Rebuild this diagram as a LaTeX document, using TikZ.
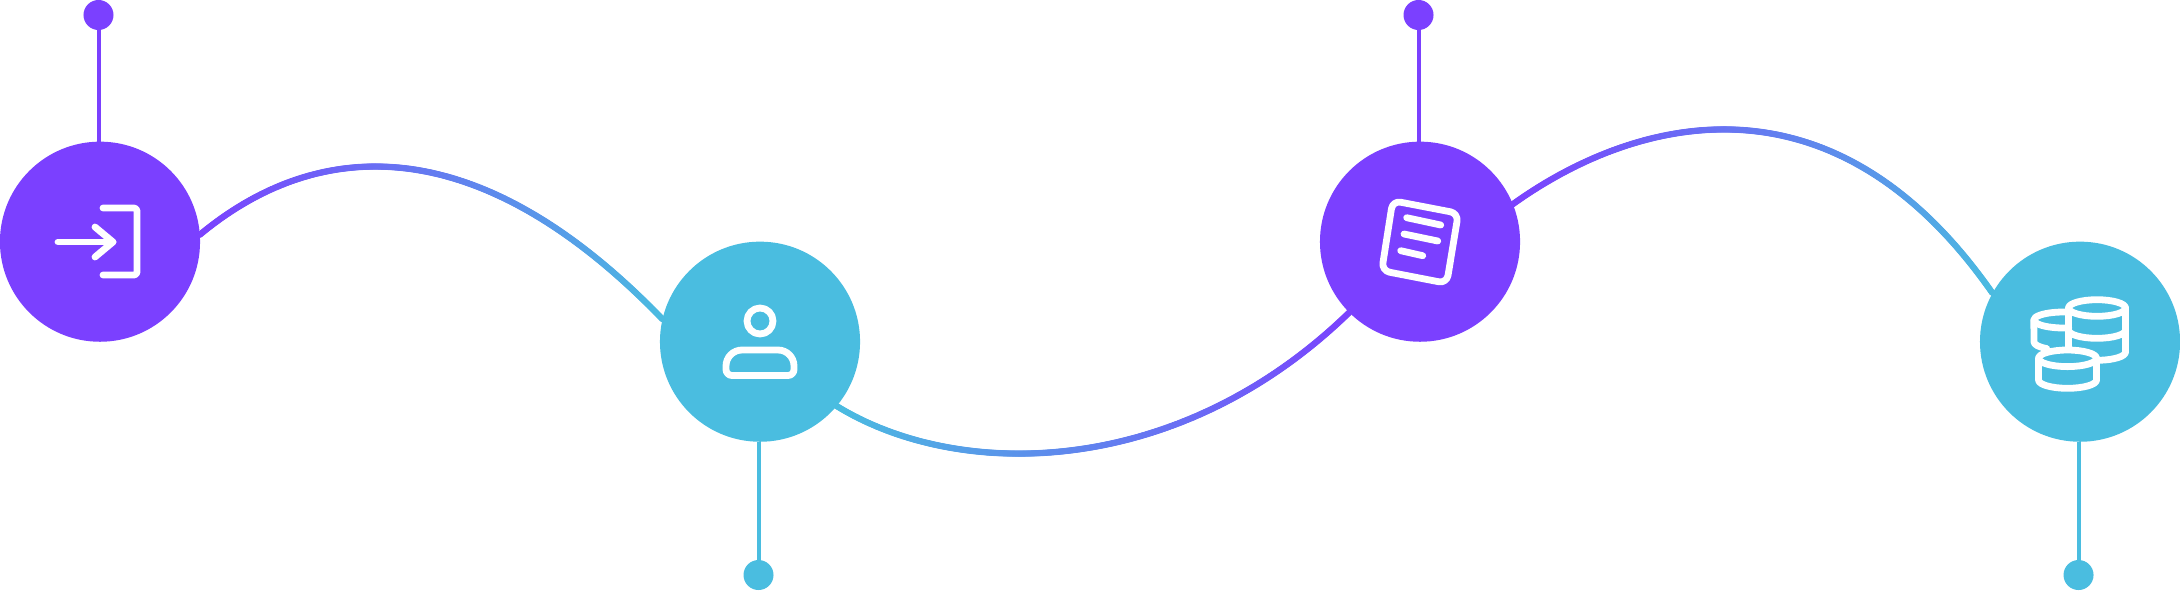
\documentclass[tikz,border=0pt]{standalone}
\usetikzlibrary{decorations.markings}

\definecolor{hubviolet}{HTML}{7B40FF}
\definecolor{hubblue}{HTML}{4ABDE0}

\tikzset{
  hub/.style={circle,minimum size=2cm,inner sep=0pt,line width=0pt,draw=none},
  dotpin/.style={circle,minimum size=0.3cm,inner sep=0pt,line width=0pt,draw=none},
  stem/.style={line width=0.04cm},
  iconline/.style={draw=white,line width=0.068cm,line cap=round,line join=round},
  fadeline/.style 2 args={decorate,decoration={markings,
    mark=between positions 0 and 1 step 0.01cm with {
      \pgfmathsetmacro\mixval{100*(\pgfkeysvalueof{/pgf/decoration/mark info/distance from start}/\pgfdecoratedpathlength)}
      \fill[#2!\mixval!#1] (0,0) circle (0.032cm);
    }}}
}

\begin{document}
\begin{tikzpicture}[x=0.01cm,y=0.01cm]

% paper size:
\pgfmathsetmacro\pwidth{2180};
\pgfmathsetmacro\pheight{590};

\useasboundingbox (0,0) rectangle (\pwidth,\pheight);

\node[hub,fill=hubviolet] (hubA) at (100,348.3) {};
\node[hub,fill=hubblue] (hubB) at (760,248.3) {};
\node[hub,fill=hubviolet] (hubC) at (1420,348.3) {};
\node[hub,fill=hubblue] (hubD) at (2080,248.3) {};

\node[dotpin,fill=hubviolet] (dotA) at (98.5,575) {};
\node[dotpin,fill=hubblue] (dotB) at (758.5,15) {};
\node[dotpin,fill=hubviolet] (dotC) at (1418.5,575) {};
\node[dotpin,fill=hubblue] (dotD) at (2078.5,15) {};

\draw[stem,hubviolet] (dotA) -- (dotA |- hubA.north);
\draw[stem,hubblue] (dotB) -- (dotB |- hubB.south);
\draw[stem,hubviolet] (dotC) -- (dotC |- hubC.north);
\draw[stem,hubblue] (dotD) -- (dotD |- hubD.south);

% curves between the circles:
\path[fadeline={hubviolet}{hubblue}] (hubA.4) .. controls (320,455) and (480,460) .. (hubB.167);
\path[fadeline={hubblue}{hubviolet}] (hubB.-40) .. controls (960,108) and (1179,112) .. (hubC.225);
\path[fadeline={hubviolet}{hubblue}] (hubC.22) .. controls (1630,470) and (1830,530) .. (hubD.151);

% arrow into bracket:
\draw[iconline] (58,348) -- (113,348);
\draw[iconline] (95,363) -- (113,348) -- (95,333);
\draw[iconline,rounded corners=0.03cm] (103,382) -- (137,382) -- (137,315) -- (103,315);

% person:
\draw[iconline] (760,269) circle (13);
\draw[iconline] (732,214.5) -- (788,214.5)
  arc[start angle=-90,end angle=0,radius=6] -- (794,224)
  arc[start angle=0,end angle=90,radius=16] -- (742,240)
  arc[start angle=90,end angle=180,radius=16] -- (726,220.5)
  arc[start angle=180,end angle=270,radius=6];

% tilted sheet:
\draw[iconline,rounded corners=0.08cm] (1392.7,389.3) -- (1458.3,376.7) -- (1446.7,306.7) -- (1381.7,319.3) -- cycle;
\draw[iconline] (1406.7,372.3) -- (1440.7,365);
\draw[iconline] (1404,356) -- (1437.7,349);
\draw[iconline] (1400.7,339.3) -- (1422.7,334.3);

% coins:
\draw[iconline] (2097,282) ellipse [x radius=28.5,y radius=8.3];
\draw[iconline] (2125.5,282) -- (2125.5,238) arc[start angle=0,end angle=-85,x radius=28.5,y radius=8.3];
\draw[iconline] (2068.5,282) -- (2068.5,242);
\draw[iconline] (2125.5,260) arc[start angle=0,end angle=-180,x radius=28.5,y radius=8.3];
\draw[iconline] (2068,277.9) arc[start angle=81,end angle=180,x radius=29.6,y radius=8] -- (2034,248) arc[start angle=180,end angle=235,x radius=29.6,y radius=8];
\draw[iconline] (2034,270) arc[start angle=180,end angle=280,x radius=29.6,y radius=8];
\draw[iconline] (2067.5,231.7) ellipse [x radius=29,y radius=8.3];
\draw[iconline] (2038.5,231.7) -- (2038.5,210) arc[start angle=180,end angle=360,x radius=29,y radius=8.3] -- (2096.5,231.7);

\end{tikzpicture}
\end{document}
